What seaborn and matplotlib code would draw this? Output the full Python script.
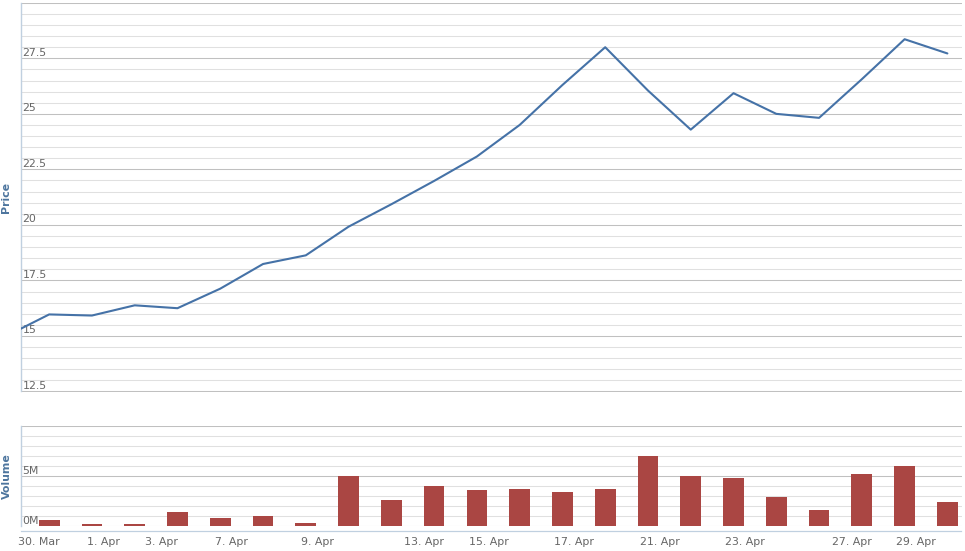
import numpy as np
import pandas as pd
import matplotlib
matplotlib.use("Agg")
import matplotlib.pyplot as plt
import matplotlib.transforms as mtransforms
from matplotlib.ticker import MultipleLocator
import seaborn as sns

# ---------------- data ----------------
dates = ['2020-03-27', '2020-03-30', '2020-03-31', '2020-04-01', '2020-04-03',
         '2020-04-06', '2020-04-07', '2020-04-08', '2020-04-09', '2020-04-10',
         '2020-04-13', '2020-04-14', '2020-04-15', '2020-04-16', '2020-04-17',
         '2020-04-20', '2020-04-21', '2020-04-22', '2020-04-23', '2020-04-24',
         '2020-04-27', '2020-04-28', '2020-04-29']
price = [15.0, 15.97, 15.92, 16.38, 16.25, 17.13, 18.24, 18.63, 19.92, 20.93,
         21.98, 23.08, 24.5, 26.3, 28.0, 26.05, 24.29, 25.93, 25.0, 24.82,
         26.56, 28.36, 27.72]
volume_dates = dates[1:]
volume_m = [0.6, 0.2, 0.2, 1.4, 0.8, 1.0, 0.3, 5.0, 2.6, 4.0, 3.6, 3.7, 3.4,
            3.7, 7.0, 5.0, 4.8, 2.9, 1.6, 5.2, 6.0, 2.4]
tick_dates = ['2020-03-30', '2020-04-01', '2020-04-03', '2020-04-07', '2020-04-09',
              '2020-04-13', '2020-04-15', '2020-04-17', '2020-04-21', '2020-04-23',
              '2020-04-27', '2020-04-29']
price_ticks = [12.5, 15, 17.5, 20, 22.5, 25, 27.5]
price_tick_labels = ['12.5', '15', '17.5', '20', '22.5', '25', '27.5']
volume_ticks = [0, 5]
volume_tick_labels = ['0M', '5M']

# ---------------- styling ----------------
LINE_C = '#4572A7'
BAR_C = '#AA4643'
MAJOR_GRID = '#C0C0C0'
MINOR_GRID = '#E0E0E0'
AXIS_C = '#C0D0E0'
LABEL_C = '#666666'
TITLE_C = '#4D759E'
FS = 7.9

sns.set_style("white")
plt.rcParams['font.family'] = ['DejaVu Sans']

W, H = 965, 551
fig = plt.figure(figsize=(W / 100, H / 100), dpi=100)

def frac(left, top, right, bottom):
    return [left / W, (H - bottom) / H, (right - left) / W, (bottom - top) / H]

ax1 = fig.add_axes(frac(20.5, 2.8, 961.5, 391.5))
ax2 = fig.add_axes(frac(20.5, 426.3, 961.5, 526.0))

# ordinal positions (Highcharts-style ordinal axis)
idx = np.arange(len(dates))
pt_times = (pd.to_datetime(dates) + pd.Timedelta(hours=17.5)).astype('int64')
vol_idx = idx[[dates.index(d) for d in volume_dates]]
tk = pd.to_datetime(tick_dates)
tick_pos = np.interp(tk.astype('int64'), pt_times, idx)
tick_labels = [f"{d.day}. {d.strftime('%b')}" for d in tk]

price_df = pd.DataFrame({'pos': idx, 'price': price})
vol_df = pd.DataFrame({'pos': vol_idx, 'volume': volume_m})

sns.lineplot(data=price_df, x='pos', y='price', ax=ax1, color=LINE_C,
             linewidth=1.5, zorder=3)
sns.barplot(data=vol_df, x='pos', y='volume', ax=ax2, native_scale=True,
            width=0.485, color=BAR_C, saturation=1, errorbar=None,
            linewidth=0, zorder=3)

xlim = (0.33, 22.33)
for ax, lo, hi, maj, mnr in [(ax1, 12.5, 30, 2.5, 0.5), (ax2, 0, 10, 5, 1)]:
    ax.set_xlim(*xlim)
    ax.set_ylim(lo, hi)
    ax.yaxis.set_major_locator(MultipleLocator(maj))
    ax.yaxis.set_minor_locator(MultipleLocator(mnr))
    ax.grid(True, which='major', axis='y', color=MAJOR_GRID, linewidth=0.75)
    ax.grid(True, which='minor', axis='y', color=MINOR_GRID, linewidth=0.75)
    ax.grid(False, axis='x')
    ax.set_axisbelow(True)
    ax.tick_params(axis='y', which='both', left=False, labelleft=False)
    ax.set_xlabel('')
    ax.set_ylabel('')
    for s in ['top', 'right']:
        ax.spines[s].set_visible(False)
    ax.spines['left'].set_color(AXIS_C)
    ax.spines['left'].set_linewidth(1.0)
    ax.patch.set_alpha(0)

ax1.spines['bottom'].set_visible(False)
ax1.tick_params(axis='x', bottom=False, labelbottom=False)

ax2.spines['bottom'].set_position(('outward', 3.3))
ax2.spines['bottom'].set_color(AXIS_C)
ax2.spines['bottom'].set_linewidth(0.9)
ax2.set_xticks(tick_pos)
ax2.set_xticklabels(tick_labels)
ax2.tick_params(axis='x', direction='out', length=3.4, width=0.8,
                color=AXIS_C, labelcolor=LABEL_C, labelsize=FS, pad=1.2)

# inside-plot y labels (Highcharts stock style)
for ax, ticks, labels in [(ax1, price_ticks, price_tick_labels),
                          (ax2, volume_ticks, volume_tick_labels)]:
    tr = mtransforms.offset_copy(ax.get_yaxis_transform(), fig=fig,
                                 x=2.0, y=2.5, units='dots')
    for v, lab in zip(ticks, labels):
        ax.text(0, v, lab, transform=tr, ha='left', va='baseline',
                fontsize=FS, color=LABEL_C, zorder=2)

fig.text(6.5 / W, 1 - 197 / H, 'Price', rotation=90, ha='center', va='center',
         fontsize=FS, fontweight='bold', color=TITLE_C)
fig.text(6.5 / W, 1 - 476 / H, 'Volume', rotation=90, ha='center', va='center',
         fontsize=FS, fontweight='bold', color=TITLE_C)

fig.savefig('out.png', dpi=100)
